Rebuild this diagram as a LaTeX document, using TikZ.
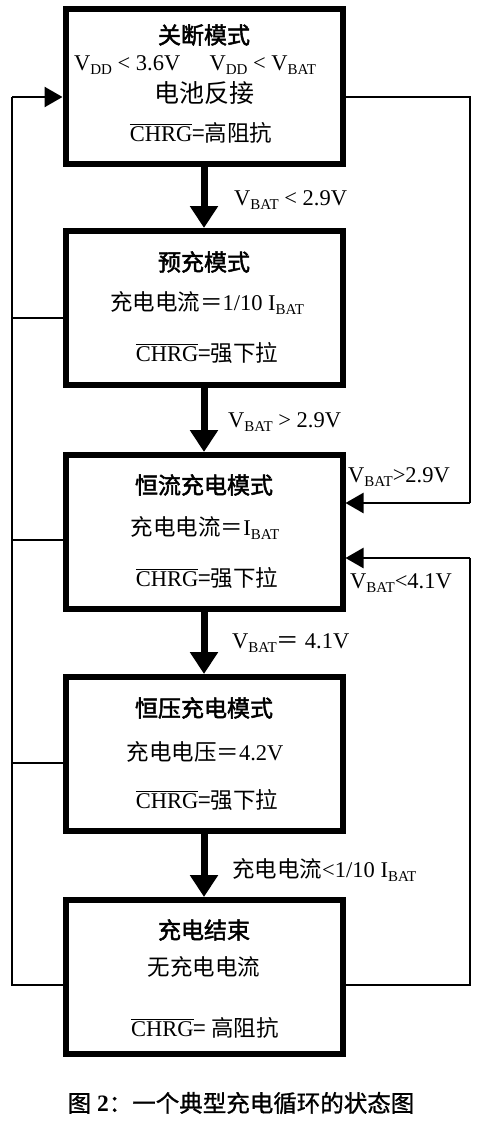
\documentclass[tikz,border=0pt]{standalone}
\usepackage{fontspec}
\setmainfont{Liberation Serif}
\newfontfamily\cjk{Noto Sans CJK SC}
\newfontfamily\cjkbf[FakeBold=2]{Noto Sans CJK SC}
\newfontfamily\cjkcap[FakeBold=1]{Noto Sans CJK SC}
\usetikzlibrary{arrows.meta}
\newcommand\lsub[1]{\raisebox{-0.45ex}{\fontsize{15}{15}\selectfont #1}}
\newcommand\ovl[1]{\leavevmode\vbox{\hrule height 0.9pt\kern 1.6pt\hbox{#1}}}
\newcommand\chrg{\ovl{CHRG}}
\tikzset{
  box/.style={draw, line width=6pt, minimum width=277pt, minimum height=154pt, inner sep=0pt},
  ttl/.style={font=\fontsize{23}{25}\selectfont\cjkbf, inner sep=0pt},
  txt/.style={font=\fontsize{22.5}{25}\selectfont, inner sep=0pt},
  lbl/.style={font=\fontsize{22.5}{25}\selectfont, inner sep=0pt, anchor=west},
  flow/.style={line width=7pt, -{Triangle[width=27pt,length=22pt]}},
  loopline/.style={line width=2.5pt},
  looparrow/.style={line width=2.5pt, -{Triangle[width=20pt,length=18pt]}}
}
\begin{document}
\begin{tikzpicture}[x=1pt,y=-1pt]
\useasboundingbox[fill=white] (0,0) rectangle (480,1132);
% boxes
\node[box] (b1) at (204,86.5) {};
\node[box] (b2) at (204,308) {};
\node[box] (b3) at (204,532) {};
\node[box] (b4) at (204,754) {};
\node[box] (b5) at (204,977) {};
% box 1 text
\node[ttl] (t1) at (204,35) {关断模式};
\node[txt] (t1a) at (195,65) {V\lsub{DD} < 3.6V\hspace{1.3em}V\lsub{DD} < V\lsub{BAT}};
\node[txt] (t1b) at (204,93) {\fontsize{25}{27}\selectfont\cjk 电池反接};
\node[txt] (t1c) at (201,133) {\chrg{\cjk =高阻抗}};
% box 2 text
\node[ttl] (t2) at (204,262) {预充模式};
\node[txt] (t2a) at (207,303) {{\cjk 充电电流＝}1/10 I\lsub{BAT}};
\node[txt] (t2b) at (207,353) {\chrg{\cjk =强下拉}};
% box 3 text
\node[ttl] (t3) at (204,485) {恒流充电模式};
\node[txt] (t3a) at (205,528) {{\cjk 充电电流＝}I\lsub{BAT}};
\node[txt] (t3b) at (207,578) {\chrg{\cjk =强下拉}};
% box 4 text
\node[ttl] (t4) at (204,708) {恒压充电模式};
\node[txt] (t4a) at (205,752) {{\cjk 充电电压＝}4.2V};
\node[txt] (t4b) at (207,800) {\chrg{\cjk =强下拉}};
% box 5 text
\node[ttl] (t5) at (204,930) {充电结束};
\node[txt] (t5a) at (204,967) {\cjk 无充电电流};
\node[txt] (t5b) at (205,1028) {\chrg{\cjk = 高阻抗}};
% flow arrows
\draw[flow] (b1.south) -- (b2.north);
\draw[flow] (b2.south) -- (b3.north);
\draw[flow] (b3.south) -- (b4.north);
\draw[flow] (b4.south) -- (b5.north);
% flow labels
\node[lbl] (l1) at (234,200) {V\lsub{BAT} < 2.9V};
\node[lbl] (l2) at (228,422) {V\lsub{BAT} > 2.9V};
\node[lbl] (l3) at (232,643) {V\lsub{BAT}{\cjk ＝} 4.1V};
\node[lbl] (l4) at (232,870) {{\cjk 充电电流}<1/10 I\lsub{BAT}};
% left loop
\coordinate (L1) at (12,97);
\coordinate (L5) at (12,985);
\draw[loopline] (b5.west |- L5) -- (L5) -- (L1);
\draw[looparrow] (L1) -- (b1.west |- L1);
\draw[loopline] (b2.west |- 0,318) -- (12,318);
\draw[loopline] (b3.west |- 0,540) -- (12,540);
\draw[loopline] (b4.west |- 0,763) -- (12,763);
% right loops
\coordinate (R1) at (470,97);
\coordinate (R3a) at (470,503);
\coordinate (R5) at (470,985);
\coordinate (R3b) at (470,558);
\draw[loopline] (b1.east |- R1) -- (R1) -- (R3a);
\draw[looparrow] (R3a) -- (b3.east |- R3a);
\draw[loopline] (b5.east |- R5) -- (R5) -- (R3b);
\draw[looparrow] (R3b) -- (b3.east |- R3b);
\node[lbl] (l5) at (348,477) {V\lsub{BAT}>2.9V};
\node[lbl] (l6) at (350,583) {V\lsub{BAT}<4.1V};
% caption
\node[inner sep=0pt, font=\fontsize{23.5}{26}\selectfont] (cap) at (241,1103) {{\cjkcap 图} \textbf{2}{\cjkcap ：一个典型充电循环的状态图}};
\end{tikzpicture}
\end{document}
